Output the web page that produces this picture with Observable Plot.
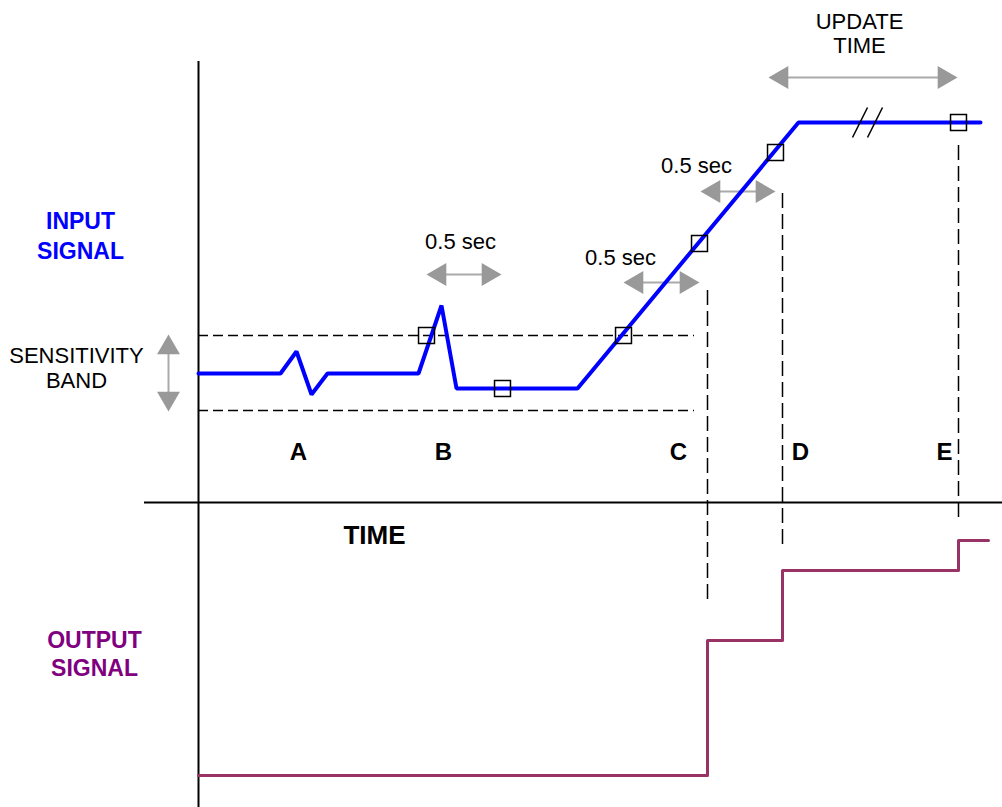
<!DOCTYPE html>
<html>
<head>
<meta charset="utf-8">
<script src="https://cdn.jsdelivr.net/npm/d3@7"></script>
<script src="https://cdn.jsdelivr.net/npm/@observablehq/plot@0.6"></script>
<style>
  html, body { margin: 0; padding: 0; background: #fff; }
  #chart svg { display: block; }
</style>
</head>
<body>
<div id="chart"></div>
<script>
// ---- Diagram data (time units along x, signal level along y; screen-like units) ----
// Input signal polyline
const inputTime  = [198, 280, 296, 311, 327, 418, 441, 456, 577, 798, 980];
const inputLevel = [373, 373, 351, 394, 373, 373, 305, 388, 388, 122, 122];

// Output signal (stepwise)
const outputTime  = [198, 707, 782, 958, 988];
const outputLevel = [775, 640, 570, 540, 540];

// Sample markers (squares)
const sampleTime  = [426, 502, 623, 699, 775, 958];
const sampleLevel = [335, 388, 335, 243, 152, 122];

// Sensitivity band limits
const bandLevels = [335, 410];
const bandStart = 198, bandEnd = 694;

// Event lines (C, D, E)
const eventTime = [707, 782, 958];
const eventTop  = [290, 193, 145];
const eventBottom = [601, 550, 517];

// Axes
const axisTime = 198, axisTop = 61, axisBottom = 807;
const axisLevel = 502, axisLeft = 144, axisRight = 1002;

// Break marks "//"
const breakX1 = [852, 867], breakX2 = [867, 882];
const breakY1 = 137, breakY2 = 107;

// Gray double arrows: [x1, y1, x2, y2]
const arrowX1 = [168, 426, 623, 700, 768];
const arrowY1 = [334, 274, 282, 191, 77];
const arrowX2 = [168, 501, 699, 775, 957];
const arrowY2 = [411, 274, 282, 191, 77];

// Event labels
const eventLabels = ["A", "B", "C", "D", "E"];
const eventLabelX = [298, 443, 678, 800, 944];
const eventLabelY = 459;

// Annotation texts
const noteText = ["0.5 sec", "0.5 sec", "0.5 sec", "UPDATE", "TIME", "SENSITIVITY", "BAND"];
const noteX    = [460, 620, 696, 859, 859, 76, 76];
const noteY    = [248, 264, 172, 28, 52, 362, 387];

const inputLabel = ["INPUT", "SIGNAL"];
const inputLabelX = 80, inputLabelY = [228, 258];
const outputLabel = ["OUTPUT", "SIGNAL"];
const outputLabelX = 94, outputLabelY = [647, 675];
const timeLabel = "TIME", timeLabelX = 374, timeLabelY = 543;

// ---- Build tables ----
const inputData = inputTime.map((t, i) => ({t, v: inputLevel[i]}));
const outputData = outputTime.map((t, i) => ({t, v: outputLevel[i]}));
const samples = sampleTime.map((t, i) => ({t, v: sampleLevel[i]}));
const events = eventTime.map((t, i) => ({t, y1: eventTop[i], y2: eventBottom[i]}));
const breaks = breakX1.map((x, i) => ({x1: x, x2: breakX2[i], y1: breakY1, y2: breakY2}));
const arrows = arrowX1.map((x, i) => ({x1: x, y1: arrowY1[i], x2: arrowX2[i], y2: arrowY2[i]}));

const headR = 8.5;
const headOffset = 2 * Math.sqrt(Math.PI * headR * headR / (3 * Math.sqrt(3))); // tip-to-center distance
const heads = [];
for (const a of arrows) {
  const dx = a.x2 - a.x1, dy = a.y2 - a.y1, L = Math.hypot(dx, dy);
  const ux = dx / L, uy = dy / L;
  const ang = Math.atan2(uy, ux) * 180 / Math.PI + 90; // triangle points up by default
  heads.push({x: a.x2 - ux * headOffset, y: a.y2 - uy * headOffset, rot: ang});
  heads.push({x: a.x1 + ux * headOffset, y: a.y1 + uy * headOffset, rot: ang + 180});
}
const shafts = arrows.map(a => {
  const dx = a.x2 - a.x1, dy = a.y2 - a.y1, L = Math.hypot(dx, dy);
  const ux = dx / L, uy = dy / L, o = headOffset;
  return {x1: a.x1 + ux * o, y1: a.y1 + uy * o, x2: a.x2 - ux * o, y2: a.y2 - uy * o};
});

const labels = eventLabels.map((s, i) => ({s, x: eventLabelX[i], y: eventLabelY}));
const notes = noteText.map((s, i) => ({s, x: noteX[i], y: noteY[i]}));
const inLab = inputLabel.map((s, i) => ({s, x: inputLabelX, y: inputLabelY[i]}));
const outLab = outputLabel.map((s, i) => ({s, x: outputLabelX, y: outputLabelY[i]}));

const font = "Arial, 'Liberation Sans', sans-serif";

const chart = Plot.plot({
  width: 1002,
  height: 807,
  margin: 0,
  style: {background: "#fff", fontFamily: font},
  x: {type: "linear", domain: [0, 1002], range: [0, 1002], axis: null},
  y: {type: "linear", domain: [0, 807], range: [0, 807], axis: null},
  marks: [
    // axes
    Plot.ruleX([axisTime], {x: d => d, y1: axisTop, y2: axisBottom, stroke: "#000", strokeWidth: 2}),
    Plot.ruleY([axisLevel], {y: d => d, x1: axisLeft, x2: axisRight, stroke: "#000", strokeWidth: 2}),
    // sensitivity band
    Plot.ruleY(bandLevels, {y: d => d, x1: bandStart, x2: bandEnd, stroke: "#000", strokeWidth: 1.5, strokeDasharray: "10,5"}),
    // event lines
    Plot.ruleX(events, {x: "t", y1: "y1", y2: "y2", stroke: "#000", strokeWidth: 1.5, strokeDasharray: "15,6"}),
    // gray arrows
    Plot.link(shafts, {x1: "x1", y1: "y1", x2: "x2", y2: "y2", stroke: "#aaaaaa", strokeWidth: 2}),
    Plot.dot(heads, {x: "x", y: "y", rotate: "rot", symbol: "triangle", r: headR, fill: "#999999", stroke: "none"}),
    // output signal
    Plot.line(outputData, {x: "t", y: "v", curve: "step-after", stroke: "#993366", strokeWidth: 3}),
    // input signal
    Plot.line(inputData, {x: "t", y: "v", stroke: "#0000ff", strokeWidth: 4, strokeLinejoin: "miter"}),
    // break marks
    Plot.link(breaks, {x1: "x1", y1: "y1", x2: "x2", y2: "y2", stroke: "#000", strokeWidth: 1.5}),
    // sample squares
    Plot.dot(samples, {x: "t", y: "v", symbol: "square", r: 9, stroke: "#000", strokeWidth: 1.5, fill: "none"}),
    // texts
    Plot.text(labels, {x: "x", y: "y", text: "s", fontSize: 24, fontWeight: "bold", fill: "#000", lineAnchor: "bottom", textAnchor: "middle"}),
    Plot.text(notes, {x: "x", y: "y", text: "s", fontSize: 22, fill: "#000", lineAnchor: "bottom", textAnchor: "middle"}),
    Plot.text(inLab, {x: "x", y: "y", text: "s", fontSize: 23, fontWeight: "bold", fill: "#0000ff", lineAnchor: "bottom", textAnchor: "middle"}),
    Plot.text(outLab, {x: "x", y: "y", text: "s", fontSize: 23, fontWeight: "bold", fill: "#800080", lineAnchor: "bottom", textAnchor: "middle"}),
    Plot.text([timeLabel], {x: timeLabelX, y: timeLabelY, text: d => d, fontSize: 26, fontWeight: "bold", fill: "#000", lineAnchor: "bottom", textAnchor: "middle"})
  ]
});
document.getElementById("chart").appendChild(chart);
</script>
</body>
</html>
